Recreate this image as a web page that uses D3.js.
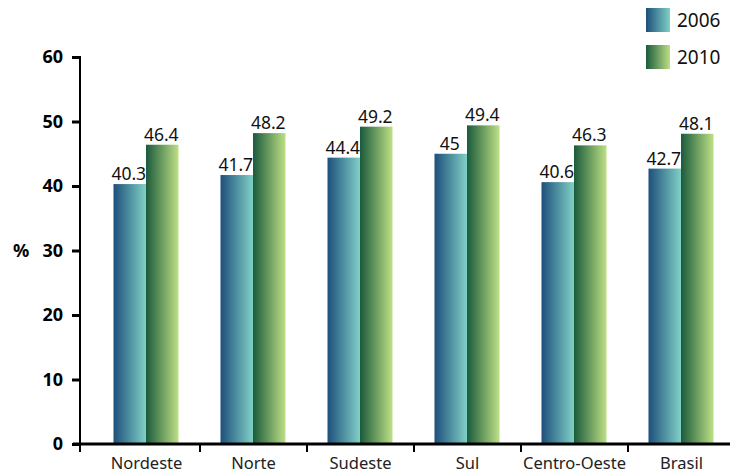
<!DOCTYPE html>
<html><head><meta charset="utf-8">
<script src="https://cdn.jsdelivr.net/npm/d3@7"></script>
<style>body{margin:0;background:#fff}svg{display:block}</style>
</head><body><svg id="c" width="730" height="475"></svg>
<script>
const categories = ["Nordeste","Norte","Sudeste","Sul","Centro-Oeste","Brasil"];
const series = ["2006","2010"];
const values2006 = [40.3,41.7,44.4,45,40.6,42.7];
const values2010 = [46.4,48.2,49.2,49.4,46.3,48.1];
const yTicks = [0,10,20,30,40,50,60];

const svg = d3.select("#c");
const font = "'Noto Sans', 'Open Sans', sans-serif";
const defs = svg.append("defs");
function grad(id, c1, c2){
  const g = defs.append("linearGradient").attr("id",id).attr("x1","0%").attr("x2","100%").attr("y1","0%").attr("y2","0%");
  g.append("stop").attr("offset","0%").attr("stop-color",c1);
  g.append("stop").attr("offset","100%").attr("stop-color",c2);
}
grad("g2006","#1d4f7b","#80d0c6");
grad("g2010","#1b5a3c","#bde085");
const fills = {"2006":"url(#g2006)","2010":"url(#g2010)"};

const y = d3.scaleLinear().domain([0,60]).range([444,57]);
const x = d3.scaleBand().domain(categories).range([93,735]).padding(0);
const xs = d3.scaleBand().domain(series).range([20.5,85.5]);

const data = categories.map((c,i)=>({c, v:[values2006[i], values2010[i]]}));

const g = svg.append("g");
data.forEach(d=>{
  series.forEach((s,j)=>{
    const bx = x(d.c)+xs(s);
    g.append("rect").attr("x",bx).attr("y",y(d.v[j])).attr("width",xs.bandwidth()).attr("height",y(0)-y(d.v[j])).attr("fill",fills[s]);
    g.append("text").attr("x",bx+xs.bandwidth()/2-1).attr("y",y(d.v[j])-4).attr("text-anchor","middle")
      .style("font-family",font).style("font-size","17.5px").attr("fill","#111").text(String(d.v[j]));
  });
});

// y axis
const ya = svg.append("g").attr("transform","translate(80,0)")
  .call(d3.axisLeft(y).tickValues(yTicks).tickSize(8).tickPadding(9).tickFormat(d3.format("d")));
ya.select(".domain").remove();
ya.selectAll(".tick line").attr("stroke","#000").attr("stroke-width",3);
ya.selectAll(".tick text").style("font-family",font).style("font-size","18px").style("font-weight","bold").attr("fill","#000");
svg.append("line").attr("x1",80).attr("x2",80).attr("y1",56).attr("y2",452).attr("stroke","#000").attr("stroke-width",2);
svg.append("text").attr("x",13).attr("y",y(30)+6).style("font-family",font).style("font-size","18px").style("font-weight","bold").attr("fill","#000").text("%");

// x axis
svg.append("line").attr("x1",73).attr("x2",730).attr("y1",444).attr("y2",444).attr("stroke","#000").attr("stroke-width",3);
const xa = svg.append("g").attr("transform","translate(0,444)")
  .call(d3.axisBottom(x).tickSize(0).tickPadding(13));
xa.select(".domain").remove();
xa.selectAll(".tick text").style("font-family",font).style("font-size","16.5px").attr("fill","#222");
categories.slice(1).forEach(c=>{
  svg.append("line").attr("x1",x(c)).attr("x2",x(c)).attr("y1",444).attr("y2",452).attr("stroke","#000").attr("stroke-width",2);
});

// legend
series.forEach((s,i)=>{
  const ly = 8 + i*37;
  svg.append("rect").attr("x",646).attr("y",ly).attr("width",24).attr("height",24).attr("fill",fills[s]);
  svg.append("text").attr("x",677).attr("y",ly+19).style("font-family",font).style("font-size","19px").attr("fill","#111").text(s);
});
</script></body></html>
